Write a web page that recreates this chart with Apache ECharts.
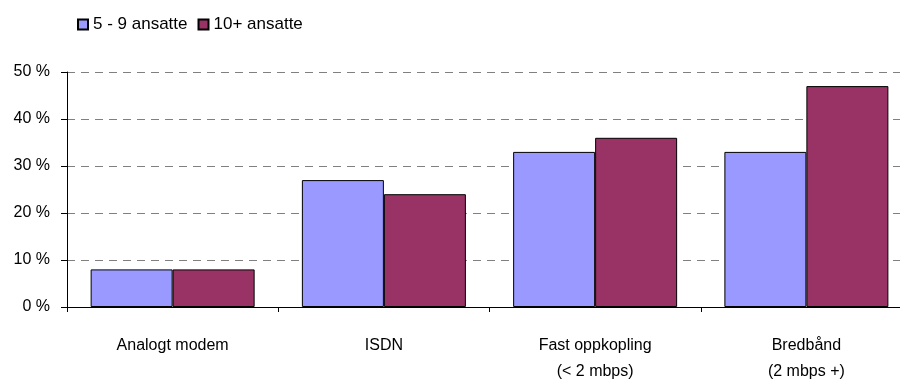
<!DOCTYPE html>
<html><head><meta charset="utf-8">
<script src="https://cdn.jsdelivr.net/npm/echarts@6/dist/echarts.min.js"></script>
<style>html,body{margin:0;padding:0;background:#fff;overflow:hidden;width:900px;height:385px}#c{width:912px;height:385px}</style>
</head><body><div id="c"></div>
<script>
const categories = ['Analogt modem', 'ISDN', 'Fast oppkopling\n(< 2 mbps)', 'Bredbånd\n(2 mbps +)'];
const seriesNames = ['5 - 9 ansatte', '10+ ansatte'];
const small = [8, 27, 33, 33];
const large = [8, 24, 36, 47];
const yTicks = [0, 10, 20, 30, 40, 50];

const chart = echarts.init(document.getElementById('c'));
const font = "'Liberation Sans', Arial, sans-serif";
chart.setOption({
  animation: false,
  legend: {
    left: 72, top: 11, itemWidth: 10, itemHeight: 10, itemGap: 10, icon: 'rect',
    textStyle: { fontFamily: font, fontSize: 17, color: '#000' },
    data: seriesNames
  },
  grid: { left: 67, top: 72, bottom: 75, right: 0, containLabel: false },
  xAxis: {
    type: 'category', data: categories,
    axisLine: { lineStyle: { color: '#000', width: 1 } },
    axisTick: { show: true, length: 5, lineStyle: { color: '#000' } },
    axisLabel: { fontFamily: font, fontSize: 16, color: '#000', margin: 26, lineHeight: 26, interval: 0 }
  },
  yAxis: {
    type: 'value', min: 0, max: 50, interval: 10,
    axisLine: { show: true, lineStyle: { color: '#000', width: 1 } },
    axisTick: { show: true, length: 6, lineStyle: { color: '#000' } },
    axisLabel: { fontFamily: font, fontSize: 16, color: '#000', margin: 17,
      formatter: v => yTicks.includes(v) ? v + ' %' : '' },
    splitLine: { show: true, lineStyle: { color: '#808080', type: [8, 6], width: 1 } }
  },
  series: [
    { name: seriesNames[0], type: 'bar', data: small, barWidth: 82, barGap: '0%',
      itemStyle: { color: '#9999FF', borderColor: '#000', borderWidth: 1 } },
    { name: seriesNames[1], type: 'bar', data: large, barWidth: 82, barGap: '0%',
      itemStyle: { color: '#993366', borderColor: '#000', borderWidth: 1 } }
  ]
});
</script></body></html>
